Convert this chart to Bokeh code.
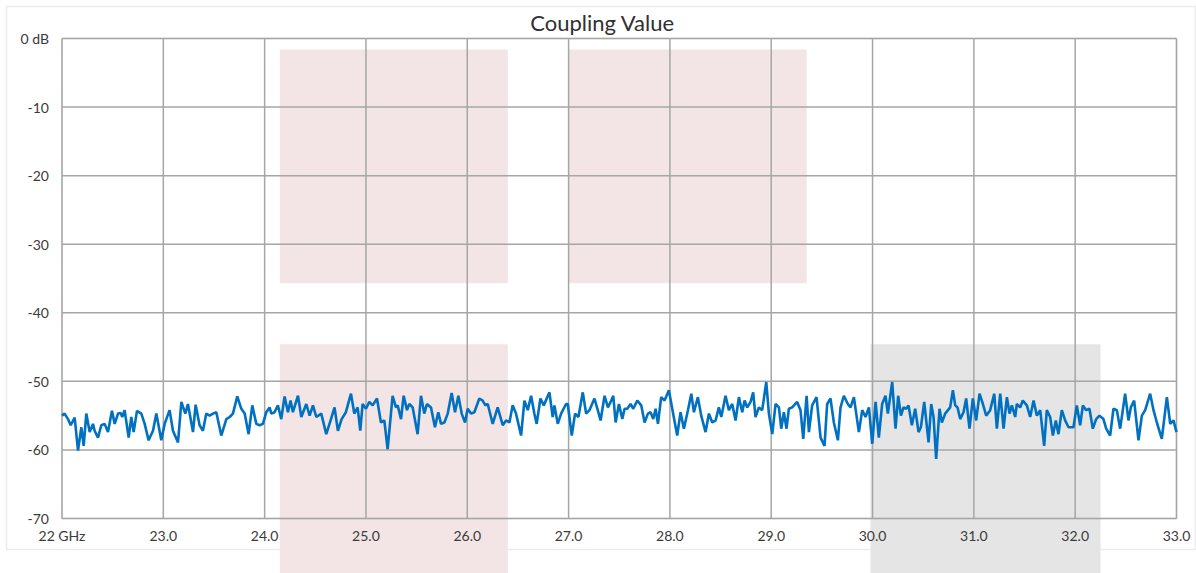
from bokeh.plotting import figure
from bokeh.models import BoxAnnotation, FixedTicker, Node, Range1d, Label
from bokeh.embed import file_html
from bokeh.resources import INLINE

# ---- data ----
freq_ghz = [
    22.000, 22.026, 22.059, 22.086, 22.125, 22.158, 22.191, 22.214, 22.240, 22.273,
    22.306, 22.322, 22.355, 22.388, 22.421, 22.454, 22.493, 22.520, 22.553, 22.579,
    22.595, 22.618, 22.658, 22.684, 22.707, 22.740, 22.783, 22.816, 22.855, 22.898,
    22.931, 22.980, 23.013, 23.062, 23.095, 23.145, 23.178, 23.217, 23.243, 23.293,
    23.319, 23.358, 23.391, 23.424, 23.457, 23.490, 23.523, 23.572, 23.622, 23.655,
    23.687, 23.730, 23.770, 23.803, 23.842, 23.878, 23.918, 23.950, 23.983, 24.016,
    24.049, 24.066, 24.098, 24.131, 24.164, 24.197, 24.230, 24.256, 24.279, 24.329,
    24.362, 24.411, 24.444, 24.477, 24.510, 24.559, 24.608, 24.651, 24.690, 24.723,
    24.760, 24.802, 24.852, 24.885, 24.918, 24.944, 24.967, 25.000, 25.033, 25.066,
    25.109, 25.148, 25.181, 25.214, 25.263, 25.296, 25.313, 25.346, 25.372, 25.405,
    25.428, 25.461, 25.510, 25.543, 25.576, 25.602, 25.642, 25.681, 25.714, 25.741,
    25.774, 25.807, 25.846, 25.879, 25.912, 25.945, 25.978, 26.004, 26.037, 26.070,
    26.119, 26.152, 26.179, 26.202, 26.251, 26.300, 26.350, 26.383, 26.416, 26.448,
    26.481, 26.531, 26.564, 26.597, 26.630, 26.662, 26.685, 26.722, 26.755, 26.811,
    26.843, 26.860, 26.893, 26.926, 26.975, 26.992, 27.031, 27.064, 27.097, 27.140,
    27.173, 27.206, 27.255, 27.288, 27.316, 27.355, 27.388, 27.415, 27.441, 27.464,
    27.497, 27.530, 27.553, 27.579, 27.612, 27.638, 27.678, 27.717, 27.750, 27.783,
    27.809, 27.836, 27.859, 27.882, 27.914, 27.947, 27.990, 28.023, 28.072, 28.105,
    28.138, 28.178, 28.211, 28.237, 28.276, 28.309, 28.352, 28.385, 28.418, 28.451,
    28.483, 28.507, 28.549, 28.582, 28.615, 28.648, 28.681, 28.714, 28.737, 28.763,
    28.796, 28.822, 28.845, 28.878, 28.911, 28.951, 28.977, 29.010, 29.043, 29.076,
    29.099, 29.125, 29.151, 29.174, 29.207, 29.256, 29.289, 29.316, 29.349, 29.372,
    29.404, 29.447, 29.487, 29.526, 29.552, 29.585, 29.618, 29.658, 29.684, 29.717,
    29.756, 29.783, 29.816, 29.865, 29.898, 29.931, 29.964, 29.997, 30.030, 30.062,
    30.095, 30.128, 30.151, 30.194, 30.227, 30.253, 30.280, 30.306, 30.332, 30.355,
    30.388, 30.421, 30.454, 30.477, 30.510, 30.553, 30.579, 30.602, 30.628, 30.661,
    30.684, 30.717, 30.766, 30.793, 30.816, 30.839, 30.865, 30.898, 30.924, 30.957,
    30.990, 31.023, 31.056, 31.089, 31.122, 31.161, 31.201, 31.227, 31.260, 31.293,
    31.326, 31.352, 31.375, 31.408, 31.424, 31.457, 31.483, 31.523, 31.556, 31.589,
    31.622, 31.655, 31.694, 31.720, 31.753, 31.780, 31.809, 31.835, 31.868, 31.901,
    31.934, 31.983, 32.016, 32.049, 32.076, 32.108, 32.141, 32.174, 32.207, 32.240,
    32.279, 32.306, 32.345, 32.378, 32.411, 32.444, 32.493, 32.526, 32.549, 32.582,
    32.625, 32.658, 32.691, 32.740, 32.773, 32.806, 32.855, 32.905, 32.938, 32.970,
    33.000,
]
coupling_db = [
    -55.0, -54.7, -55.5, -56.4, -55.3, -60.1, -56.7, -59.4, -54.7, -57.4,
    -56.2, -57.2, -58.2, -56.4, -56.2, -57.4, -54.3, -56.2, -54.7, -54.6,
    -55.2, -54.2, -58.2, -55.2, -57.4, -54.3, -54.7, -56.2, -58.6, -57.2,
    -54.7, -58.6, -56.2, -54.2, -57.2, -58.9, -53.0, -54.7, -53.3, -57.4,
    -53.4, -56.4, -57.2, -54.7, -55.0, -54.7, -54.5, -57.9, -55.5, -55.2,
    -54.7, -52.2, -54.0, -54.7, -57.7, -53.5, -56.2, -56.4, -56.2, -54.5,
    -53.8, -54.7, -54.5, -53.5, -55.5, -52.2, -54.5, -52.8, -54.5, -52.1,
    -55.2, -53.3, -55.0, -53.5, -55.2, -54.7, -57.7, -55.7, -53.8, -57.2,
    -55.5, -54.5, -51.8, -54.7, -53.8, -57.2, -53.3, -54.0, -53.0, -53.5,
    -52.5, -56.0, -55.7, -59.9, -52.1, -53.8, -53.5, -55.5, -52.1, -54.2,
    -53.3, -53.8, -57.7, -52.1, -54.7, -53.3, -53.8, -56.7, -54.5, -56.2,
    -56.0, -54.7, -51.7, -54.5, -52.1, -54.7, -56.0, -54.0, -54.7, -54.5,
    -52.5, -52.8, -53.5, -53.3, -56.2, -53.8, -56.4, -55.7, -56.0, -53.5,
    -54.7, -57.9, -52.8, -54.2, -52.1, -54.7, -56.2, -52.5, -53.5, -51.6,
    -55.2, -53.5, -56.2, -54.7, -53.3, -53.3, -57.9, -54.7, -55.2, -51.6,
    -54.7, -54.2, -52.5, -54.2, -55.7, -52.1, -53.8, -53.0, -52.1, -56.0,
    -53.3, -55.5, -54.0, -54.0, -53.3, -54.0, -52.8, -53.5, -56.0, -54.7,
    -54.5, -55.5, -54.0, -56.2, -52.3, -52.8, -51.3, -54.0, -57.9, -54.5,
    -56.9, -54.2, -51.8, -54.5, -52.3, -55.0, -57.4, -54.7, -56.0, -55.7,
    -53.8, -55.2, -52.1, -54.2, -53.3, -55.7, -52.3, -54.5, -52.8, -53.8,
    -53.0, -51.6, -55.2, -53.8, -54.2, -50.1, -54.7, -57.7, -53.3, -53.8,
    -56.9, -54.5, -56.9, -54.0, -53.8, -53.0, -54.2, -58.4, -52.1, -57.4,
    -53.5, -52.3, -58.2, -59.4, -53.3, -52.5, -56.0, -58.6, -53.8, -52.1,
    -53.3, -53.8, -52.3, -57.4, -54.2, -55.2, -53.8, -59.1, -53.0, -58.2,
    -53.3, -52.1, -54.7, -50.1, -56.9, -52.1, -55.0, -53.8, -54.0, -53.5,
    -56.4, -54.0, -57.4, -56.7, -53.0, -58.9, -53.3, -55.2, -61.3, -54.0,
    -56.0, -54.7, -53.8, -51.3, -53.5, -53.8, -55.5, -54.5, -52.5, -56.9,
    -52.5, -55.7, -51.8, -53.3, -55.0, -54.2, -51.8, -56.9, -51.8, -56.9,
    -52.3, -54.7, -53.5, -55.2, -53.3, -53.8, -52.8, -53.5, -55.2, -52.8,
    -55.0, -54.2, -59.4, -54.2, -55.2, -57.9, -55.7, -57.7, -54.2, -55.7,
    -56.7, -56.7, -53.5, -56.4, -53.5, -54.2, -54.0, -56.9, -55.5, -55.0,
    -55.5, -56.9, -57.9, -54.0, -54.2, -56.9, -51.8, -55.7, -53.8, -52.8,
    -58.6, -55.0, -54.2, -51.8, -54.2, -56.0, -58.4, -52.3, -56.2, -55.7,
    -57.4,
]

x_ticks = [22, 23, 24, 25, 26, 27, 28, 29, 30, 31, 32, 33]
x_tick_labels = ["22 GHz", "23.0", "24.0", "25.0", "26.0", "27.0", "28.0",
                 "29.0", "30.0", "31.0", "32.0", "33.0"]
y_ticks = [0, -10, -20, -30, -40, -50, -60, -70]
y_tick_labels = ["0 dB", "-10", "-20", "-30", "-40", "-50", "-60", "-70"]

# shaded frequency bands: (start GHz, end GHz)
upper_band_start = [24.15, 27.0]
upper_band_end = [26.4, 29.35]
upper_band_top_db = -1.6
upper_band_bottom_db = -35.7
lower_band_start = [24.15, 29.98]
lower_band_end = [26.4, 32.25]
lower_band_colors = ["#f3e5e5", "#e5e5e5"]
lower_band_top_db = -44.6

title_text = "Coupling Value"

# ---- layout (pixels) ----
W, H = 1196, 573
PX_X0, PX_X1 = 61.5, 1176.0   # pixel columns of the first and last x tick
PX_Y0, PX_Y1 = 38.0, 518.0    # pixel rows of the top and bottom y tick
x_lo, x_hi = x_ticks[0], x_ticks[-1]
y_hi, y_lo = y_ticks[0], y_ticks[-1]
gx = (PX_X1 - PX_X0) / (x_hi - x_lo)
gy = (PX_Y1 - PX_Y0) / (y_hi - y_lo)
x_start = x_lo - PX_X0 / gx
x_end = x_hi + (W - PX_X1) / gx
y_end = y_hi + PX_Y0 / gy
y_start = y_lo - (H - PX_Y1) / gy

FONT = "Lato"
GRID = "#a6a6a6"

p = figure(
    width=W, height=H,
    x_range=Range1d(x_start, x_end), y_range=Range1d(y_start, y_end),
    output_backend="svg", toolbar_location=None,
    min_border=0, min_border_left=0, min_border_right=0,
    min_border_top=0, min_border_bottom=0,
)
p.background_fill_color = "white"
p.border_fill_color = "white"
p.outline_line_color = None
p.xgrid.visible = False
p.ygrid.visible = False

# outer chart border
p.add_layout(BoxAnnotation(
    left=Node(target="frame", symbol="left", offset=6),
    right=Node(target="frame", symbol="right", offset=-1),
    top=Node(target="frame", symbol="top", offset=6),
    bottom=Node(target="frame", symbol="bottom", offset=-24),
    fill_alpha=0, line_color="#c0c0c0", line_width=1.5, level="image",
))

# shaded bands
for s, e in zip(upper_band_start, upper_band_end):
    p.add_layout(BoxAnnotation(
        left=s, right=e, top=upper_band_top_db, bottom=upper_band_bottom_db,
        fill_color="#f3e5e5", fill_alpha=1, line_color=None, level="image",
    ))
for s, e, c in zip(lower_band_start, lower_band_end, lower_band_colors):
    p.add_layout(BoxAnnotation(
        left=s, right=e, top=lower_band_top_db,
        bottom=Node(target="frame", symbol="bottom"),
        fill_color=c, fill_alpha=1, line_color=None, level="image",
    ))

# plot-area outline
p.add_layout(BoxAnnotation(
    left=x_lo, right=x_hi, top=y_hi, bottom=y_lo,
    fill_alpha=0, line_color="#9a9a9a", line_width=1.5, level="underlay",
))

# grid lines limited to the plot area
p.segment(x0=x_ticks, x1=x_ticks, y0=[y_lo] * len(x_ticks), y1=[y_hi] * len(x_ticks),
          line_color=GRID, line_width=1.5)
p.segment(x0=[x_lo] * len(y_ticks), x1=[x_hi] * len(y_ticks), y0=y_ticks, y1=y_ticks,
          line_color=GRID, line_width=1.5)

# data line
p.line(freq_ghz, coupling_db, line_color="#0070c0", line_width=2.6)

# axes pinned to the plot-area edges
p.xaxis.fixed_location = y_lo
p.yaxis.fixed_location = x_lo
p.xaxis.ticker = FixedTicker(ticks=x_ticks)
p.yaxis.ticker = FixedTicker(ticks=y_ticks)
p.xaxis.major_label_overrides = dict(zip(x_ticks, x_tick_labels))
p.yaxis.major_label_overrides = dict(zip(y_ticks, y_tick_labels))
for ax in (p.xaxis, p.yaxis):
    ax.axis_line_color = None
    ax.major_tick_line_color = None
    ax.minor_tick_line_color = None
    ax.major_tick_out = 0
    ax.major_tick_in = 0
    ax.minor_tick_out = 0
    ax.major_label_text_font = FONT
    ax.major_label_text_font_size = "14px"
    ax.major_label_text_color = "#3a3a3a"
p.xaxis.major_label_standoff = 8
p.yaxis.major_label_standoff = 13

# chart title
p.add_layout(Label(
    x=x_start + 602 / gx, y=y_end - 22 / gy, text=title_text,
    text_font=FONT, text_font_size="22px", text_color="#303030",
    text_align="center", text_baseline="middle",
))

open("out.html", "w").write(file_html(p, INLINE))
